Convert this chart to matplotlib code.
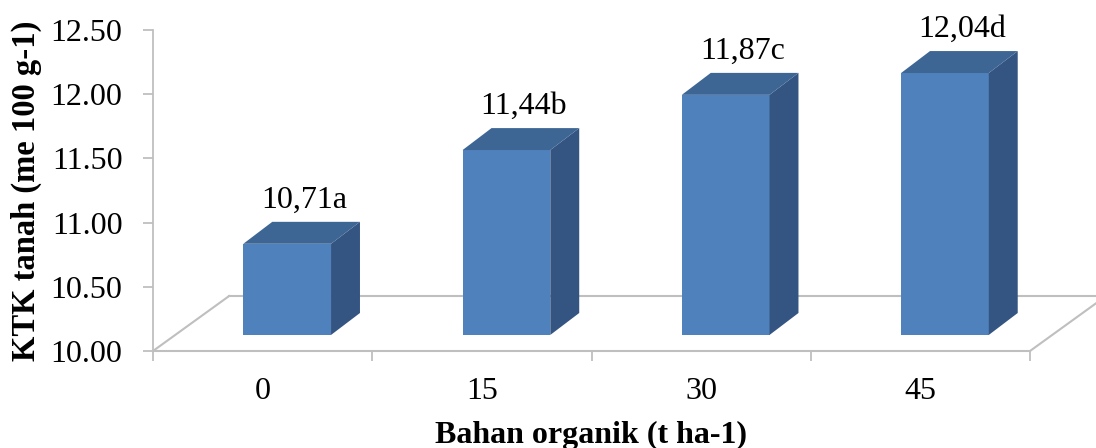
import matplotlib
matplotlib.use("Agg")
import matplotlib.pyplot as plt
from matplotlib.patches import Polygon
from matplotlib.lines import Line2D

categories = ["0", "15", "30", "45"]
values = [10.71, 11.44, 11.87, 12.04]
labels = ["10,71a", "11,44b", "11,87c", "12,04d"]
yticks = [10.0, 10.5, 11.0, 11.5, 12.0, 12.5]

FONT = "Liberation Serif"
front_c = "#4F81BD"
top_c = "#3D6694"
side_c = "#345481"
floor_c = "#BFBFBF"

# perspective offsets (data units)
floor_dx, floor_dy = 0.347, 0.428
bar_off_x, bar_off_y = 0.112, 0.125
bar_w = 0.40
depth_dx, depth_dy = 0.132, 0.171

W, H = 1096, 448
fig = plt.figure(figsize=(W / 100, H / 100), dpi=100)
ax = fig.add_axes([153 / W, 97 / H, 877 / W, 321 / H])
n = len(categories)
ax.set_xlim(0, n)
ax.set_ylim(10, 12.5)

for s in ["top", "right", "bottom"]:
    ax.spines[s].set_visible(False)
ax.spines["left"].set_color(floor_c)
ax.spines["left"].set_linewidth(1.3)

# floor
base = 10
floor_lines = [
    ([0, n], [base, base]),
    ([0, floor_dx], [base, base + floor_dy]),
    ([floor_dx, n + floor_dx], [base + floor_dy, base + floor_dy]),
    ([n, n + floor_dx], [base, base + floor_dy]),
]
for xs, ys in floor_lines:
    ax.add_line(Line2D(xs, ys, color=floor_c, lw=1.5, clip_on=False, zorder=1))

# bars
for i, v in enumerate(values):
    x0 = i + 0.5 + bar_off_x - bar_w / 2
    x1 = x0 + bar_w
    y0 = base + bar_off_y
    y1 = v + bar_off_y
    front = Polygon([(x0, y0), (x1, y0), (x1, y1), (x0, y1)], closed=True,
                    facecolor=front_c, edgecolor="none", clip_on=False, zorder=3)
    side = Polygon([(x1, y0), (x1 + depth_dx, y0 + depth_dy),
                    (x1 + depth_dx, y1 + depth_dy), (x1, y1)], closed=True,
                   facecolor=side_c, edgecolor="none", clip_on=False, zorder=3)
    top = Polygon([(x0, y1), (x1, y1), (x1 + depth_dx, y1 + depth_dy),
                   (x0 + depth_dx, y1 + depth_dy)], closed=True,
                  facecolor=top_c, edgecolor="none", clip_on=False, zorder=3)
    for p in (front, side, top):
        ax.add_patch(p)
    ax.text(i + 0.5 + 0.19, v + 0.467, labels[i], ha="center", va="center",
            fontsize=23, family=FONT, clip_on=False)

# ticks
ax.set_yticks(yticks)
ax.set_yticklabels([f"{t:.2f}" for t in yticks], fontsize=23, family=FONT)
ax.tick_params(axis="y", length=7, width=1.3, color=floor_c, pad=15)
ax.set_xticks(range(n + 1))
ax.set_xticklabels([""] * (n + 1))
ax.tick_params(axis="x", which="major", length=7, width=1.3, color=floor_c)
ax.set_xticks([i + 0.5 for i in range(n)], minor=True)
ax.set_xticklabels(categories, minor=True, fontsize=23, family=FONT)
ax.tick_params(axis="x", which="minor", length=0, pad=19)

ax.set_xlabel("Bahan organik (t ha-1)", fontsize=23, family=FONT,
              fontweight="bold")
ax.set_ylabel("KTK tanah (me 100 g-1)", fontsize=23.5, family=FONT,
              fontweight="bold")
ax.xaxis.label.set_va("center")
ax.yaxis.label.set_va("center")
ax.xaxis.set_label_coords(438 / 877, -84 / 321)
ax.yaxis.set_label_coords(-127 / 877, 0.5)

fig.savefig("out.png", dpi=100)
